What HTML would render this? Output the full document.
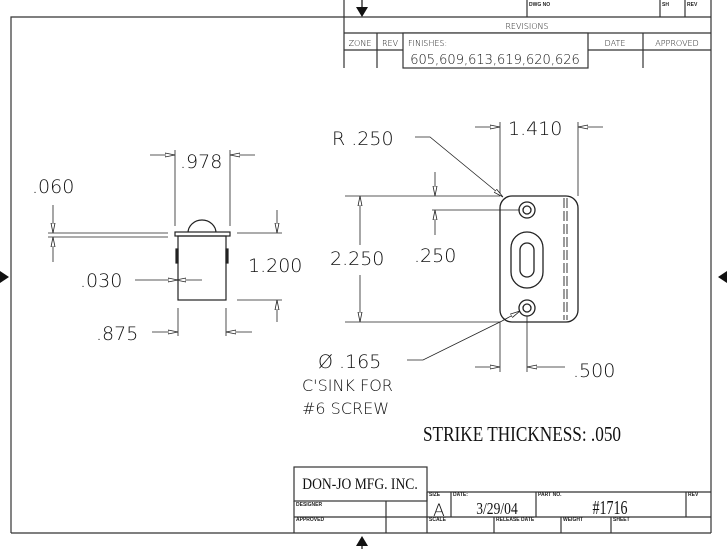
<!DOCTYPE html>
<html><head><meta charset="utf-8"><style>
html,body{margin:0;padding:0;background:#fff;}
svg{display:block;}
.t{font-family:"DejaVu Sans","Liberation Sans",sans-serif;font-weight:200;fill:#111;}
.s{font-family:"Liberation Serif",serif;fill:#111;}
.sm{font-family:"Liberation Sans",sans-serif;font-size:5px;font-weight:bold;fill:#222;}
</style></head><body>
<svg width="727" height="549" viewBox="0 0 727 549" xmlns="http://www.w3.org/2000/svg">
<defs>
<marker id="a" viewBox="0 0 10 6" refX="10" refY="3" markerWidth="10" markerHeight="6" markerUnits="userSpaceOnUse" orient="auto"><path d="M0,1 L10,3 L0,5 Z" fill="#fff" stroke="#222" stroke-width="0.8"/></marker>
</defs>
<g stroke="#333" stroke-width="1.2" fill="none">
<polyline points="11,533 11,17 344,17"/>
<line x1="711" y1="0" x2="711" y2="533"/>
<line x1="11" y1="533" x2="711" y2="533"/>
<line x1="344" y1="0" x2="344" y2="68"/>
<line x1="527" y1="0" x2="527" y2="17"/>
<line x1="660" y1="0" x2="660" y2="17"/>
<line x1="685" y1="0" x2="685" y2="17"/>
<line x1="344" y1="17" x2="711" y2="17"/>
<line x1="344" y1="33" x2="711" y2="33"/>
<line x1="344" y1="50" x2="711" y2="50"/>
<line x1="377" y1="33" x2="377" y2="68"/>
<line x1="643" y1="33" x2="643" y2="68"/>
<rect x="403" y="33" width="185" height="35" fill="#fff"/>
<rect x="294" y="467" width="133" height="34"/>
<line x1="294" y1="501" x2="294" y2="533"/>
<line x1="427" y1="492" x2="711" y2="492"/>
<line x1="294" y1="517" x2="711" y2="517"/>
<line x1="386" y1="501" x2="386" y2="533"/>
<line x1="427" y1="492" x2="427" y2="533"/>
<line x1="451" y1="492" x2="451" y2="517"/>
<line x1="536" y1="492" x2="536" y2="517"/>
<line x1="686" y1="492" x2="686" y2="517"/>
<line x1="494" y1="517" x2="494" y2="533"/>
<line x1="561" y1="517" x2="561" y2="533"/>
<line x1="611" y1="517" x2="611" y2="533"/>
</g>
<g fill="#111">
<line x1="362" y1="0" x2="362" y2="8" stroke="#111" stroke-width="1.2"/>
<polygon points="356,7 368,7 362,17"/>
<line x1="362" y1="541" x2="362" y2="549" stroke="#111" stroke-width="1.2"/>
<polygon points="356,546 368,546 362,536"/>
<polygon points="0,271 0,283 9,277"/>
<polygon points="727,271 727,283 718,277"/>
</g>
<text class="sm" x="529" y="6">DWG NO</text>
<text class="sm" x="662" y="6">SH</text>
<text class="sm" x="687" y="6">REV</text>
<text class="t" x="527" y="29" font-size="8" text-anchor="middle">REVISIONS</text>
<text class="t" x="360" y="46" font-size="8" text-anchor="middle">ZONE</text>
<text class="t" x="390" y="46" font-size="8" text-anchor="middle">REV</text>
<text class="t" x="408" y="46" font-size="8">FINISHES:</text>
<text class="t" x="615" y="46" font-size="8" text-anchor="middle">DATE</text>
<text class="t" x="677" y="46" font-size="8" text-anchor="middle">APPROVED</text>
<text class="t" x="495" y="64" font-size="13" text-anchor="middle">605,609,613,619,620,626</text>
<text class="s" x="360" y="489" font-size="16" text-anchor="middle" transform="translate(360 0) scale(0.85 1) translate(-360 0)">DON-JO MFG. INC.</text>
<text class="sm" x="296" y="506">DESIGNER</text>
<text class="sm" x="296" y="521">APPROVED</text>
<text class="sm" x="429" y="496">SIZE</text>
<text class="sm" x="453" y="496">DATE:</text>
<text class="sm" x="538" y="496">PART NO.</text>
<text class="sm" x="688" y="496">REV</text>
<text class="sm" x="429" y="521">SCALE</text>
<text class="sm" x="496" y="521">RELEASE DATE</text>
<text class="sm" x="563" y="521">WEIGHT</text>
<text class="sm" x="613" y="521">SHEET</text>
<text class="t" x="439" y="516" font-size="17" text-anchor="middle">A</text>
<text class="s" x="497" y="514" font-size="17" text-anchor="middle" transform="translate(497 0) scale(0.8 1) translate(-497 0)">3/29/04</text>
<text class="s" x="610" y="514" font-size="20" text-anchor="middle" transform="translate(610 0) scale(0.7 1) translate(-610 0)">#1716</text>
<g stroke="#222" stroke-width="1.2" fill="none">
<path d="M188,233 A14,13 0 0 1 216,233"/>
<rect x="175" y="232" width="55" height="4" fill="#fff"/>
<rect x="178" y="236" width="48" height="64"/>
<rect x="176" y="249" width="2" height="14" fill="#222"/>
<rect x="226" y="249" width="2" height="14" fill="#222"/>
<g stroke-width="0.8">
<line x1="175" y1="150" x2="175" y2="226"/>
<line x1="230" y1="150" x2="230" y2="226"/>
<line x1="150" y1="155" x2="175" y2="155" marker-end="url(#a)"/>
<line x1="255" y1="155" x2="230" y2="155" marker-end="url(#a)"/>
<line x1="48" y1="233" x2="168" y2="233"/>
<line x1="48" y1="237" x2="168" y2="237"/>
<line x1="53" y1="205" x2="53" y2="233" marker-end="url(#a)"/>
<line x1="53" y1="262" x2="53" y2="237" marker-end="url(#a)"/>
<line x1="237" y1="233" x2="282" y2="233"/>
<line x1="237" y1="300" x2="282" y2="300"/>
<line x1="277" y1="210" x2="277" y2="233" marker-end="url(#a)"/>
<line x1="277" y1="322" x2="277" y2="300" marker-end="url(#a)"/>
<line x1="178" y1="308" x2="178" y2="336"/>
<line x1="226" y1="308" x2="226" y2="336"/>
<line x1="152" y1="332" x2="178" y2="332" marker-end="url(#a)"/>
<line x1="252" y1="332" x2="226" y2="332" marker-end="url(#a)"/>
<line x1="135" y1="280" x2="178" y2="280" marker-end="url(#a)"/>
<line x1="202" y1="280" x2="176" y2="280" marker-end="url(#a)"/>
</g>
</g>
<text class="t" x="180" y="168" font-size="19">.978</text>
<text class="t" x="32" y="193" font-size="19">.060</text>
<text class="t" x="248" y="272" font-size="19">1.200</text>
<text class="t" x="80" y="287" font-size="19">.030</text>
<text class="t" x="96" y="340" font-size="19">.875</text>
<g stroke="#222" stroke-width="1.3" fill="none">
<rect x="500" y="196" width="78" height="126" rx="12"/>
<circle cx="527" cy="210" r="8"/><circle cx="527" cy="210" r="4"/>
<circle cx="527" cy="308" r="8"/><circle cx="527" cy="308" r="4"/>
<rect x="511" y="232" width="32" height="56" rx="16"/>
<rect x="520" y="243" width="14" height="34" rx="7"/>
<line x1="564" y1="198" x2="564" y2="320" stroke-dasharray="10,3" stroke-width="0.9"/>
<line x1="567" y1="198" x2="567" y2="320" stroke-dasharray="10,3" stroke-width="0.9"/>
<g stroke-width="0.8">
<line x1="345" y1="196" x2="500" y2="196"/>
<line x1="345" y1="322" x2="500" y2="322"/>
<line x1="360" y1="245" x2="360" y2="196" marker-end="url(#a)"/>
<line x1="360" y1="275" x2="360" y2="322" marker-end="url(#a)"/>
<line x1="432" y1="210" x2="520" y2="210"/>
<line x1="435" y1="172" x2="435" y2="196" marker-end="url(#a)"/>
<line x1="435" y1="235" x2="435" y2="210" marker-end="url(#a)"/>
<line x1="500" y1="122" x2="500" y2="196"/>
<line x1="578" y1="122" x2="578" y2="196"/>
<line x1="475" y1="127" x2="500" y2="127" marker-end="url(#a)"/>
<line x1="603" y1="127" x2="578" y2="127" marker-end="url(#a)"/>
<polyline points="415,137 430,137 503,197" marker-end="url(#a)"/>
<polyline points="407,360 423,360 502,321"/>
<line x1="502" y1="321" x2="520" y2="311" marker-end="url(#a)"/>
<line x1="500" y1="322" x2="500" y2="372"/>
<line x1="527" y1="316" x2="527" y2="372"/>
<line x1="475" y1="367" x2="500" y2="367" marker-end="url(#a)"/>
<line x1="565" y1="367" x2="527" y2="367" marker-end="url(#a)"/>
</g>
</g>
<text class="t" x="508" y="135" font-size="19">1.410</text>
<text class="t" x="332" y="145" font-size="19">R .250</text>
<text class="t" x="330" y="265" font-size="19">2.250</text>
<text class="t" x="414" y="262" font-size="19">.250</text>
<text class="t" x="573" y="377" font-size="19">.500</text>
<text class="t" x="318" y="368" font-size="19">Ø .165</text>
<text class="t" x="302" y="391" font-size="16">C'SINK FOR</text>
<text class="t" x="302" y="414" font-size="16">#6 SCREW</text>
<text class="s" x="423" y="441" font-size="21" transform="translate(423 0) scale(0.82 1) translate(-423 0)">STRIKE THICKNESS: .050</text>
</svg>
</body></html>
